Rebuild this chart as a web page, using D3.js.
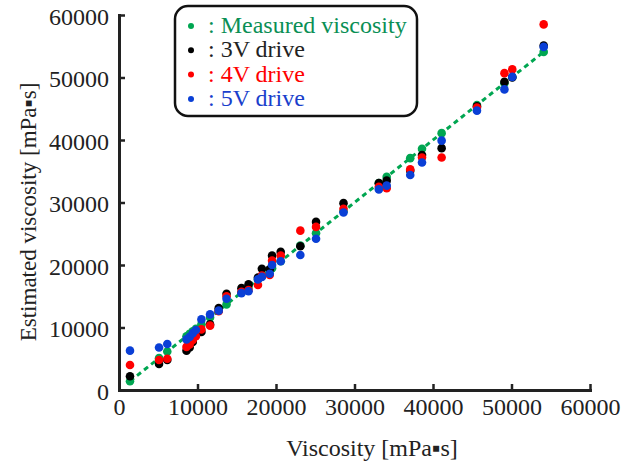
<!DOCTYPE html>
<html>
<head>
<meta charset="utf-8">
<script src="https://cdn.jsdelivr.net/npm/d3@7"></script>
<style>
  body { margin: 0; background: #fff; }
  svg text { font-family: "Liberation Serif", "Times New Roman", Times, "DejaVu Serif", serif; }
</style>
</head>
<body>
<svg id="chart" width="636" height="466"></svg>
<script>
// measured viscosity (x) and estimates for each drive voltage
const measured = [1400, 5100, 6150, 8600, 9000, 9400, 9800, 10500, 11600, 12700, 13700,
  15600, 16500, 17700, 18200, 19200, 19500, 20600, 23100, 25100, 28600, 33100, 34100,
  37100, 38600, 41100, 45600, 49100, 50100, 54100]
const drive3V = [2200, 4150, 4800, 6300, 6800, 7700, 8800, 9300, 10500, 13100, 15400,
  16300, 16900, 18000, 19400, 19300, 21500, 22100, 23000, 26900, 29900, 33100, 33500,
  35100, 37600, 38700, 45400, 49300, 50000, 55100]
const drive4V = [4000, 4800, 5000, 6900, 7300, 8000, 8600, 9700, 10300, 12600, 15000,
  15700, 16000, 16800, 18300, 18400, 20700, 21500, 25500, 26100, 29000, 32500, 32300,
  35300, 37200, 37200, 45200, 50700, 51300, 58500]
const drive5V = [6300, 6800, 7350, 8100, 8500, 9100, 9600, 11300, 12100, 12700, 14600,
  15500, 15800, 17700, 18100, 18600, 20000, 20600, 21600, 24200, 28400, 32100, 32700,
  34400, 36400, 39900, 44700, 48100, 50100, 54900]
const axisTicks = [0, 10000, 20000, 30000, 40000, 50000, 60000]
const legendLabels = [': Measured viscosity', ': 3V drive', ': 4V drive', ': 5V drive']

const svg = d3.select('#chart')
const serif = '"Liberation Serif", "Times New Roman", Times, "DejaVu Serif", serif'
const green = '#00a651'
const colors = [green, '#000000', '#ff0000', '#0a3fd6']
const textColors = ['#0a8f55', '#222222', '#ff0000', '#1a3fcc']

const x = d3.scaleLinear().domain([0, 60000]).range([119, 590])
const y = d3.scaleLinear().domain([0, 60000]).range([390, 15])

// axes with ticks pointing inward
const xAxis = svg.append('g')
  .attr('transform', `translate(0, ${y(0)})`)
  .call(d3.axisBottom(x).tickValues(axisTicks).tickSizeInner(-6).tickSizeOuter(0).tickPadding(14).tickFormat(d3.format('d')))
const yAxis = svg.append('g')
  .attr('transform', `translate(${x(0)}, 0)`)
  .call(d3.axisLeft(y).tickValues(axisTicks).tickSizeInner(-6).tickSizeOuter(0).tickPadding(10).tickFormat(d3.format('d')))

svg.selectAll('g').attr('font-family', serif)
svg.selectAll('.domain').style('stroke', '#222').style('stroke-width', 3).style('stroke-linecap', 'square')
svg.selectAll('.tick line').style('stroke', '#222').style('stroke-width', 2.5)
svg.selectAll('.tick text')
  .style('font-family', serif)
  .style('font-size', '24px')
  .style('fill', '#222')
xAxis.selectAll('.tick text').attr('dy', '0.45em')
yAxis.selectAll('.tick text').attr('dy', '0.38em')

// axis titles
svg.append('text')
  .attr('x', 372).attr('y', 456)
  .attr('text-anchor', 'middle')
  .style('font-family', serif)
  .style('font-size', '24px').style('fill', '#222')
  .text('Viscosity [mPa\u25AAs]')
svg.append('text')
  .attr('transform', 'rotate(-90)')
  .attr('x', -212).attr('y', 36)
  .attr('text-anchor', 'middle')
  .style('font-family', serif)
  .style('font-size', '23px').style('fill', '#222')
  .text('Estimated viscosity  [mPa\u25AAs]')

// dashed line through the measured values
svg.append('path')
  .datum([measured[0], measured[measured.length - 1]])
  .attr('d', d3.line().x(d => x(d)).y(d => y(d)))
  .style('fill', 'none')
  .style('stroke', green)
  .style('stroke-width', 3)
  .style('stroke-dasharray', '5,4')

// points: green first, then 3V, 4V, 5V on top
const series = [measured, drive3V, drive4V, drive5V]
series.forEach((vals, i) => {
  svg.append('g')
    .selectAll('circle')
    .data(vals)
    .enter()
    .append('circle')
    .attr('cx', (d, j) => x(measured[j]))
    .attr('cy', d => y(d))
    .attr('r', 4.3)
    .style('fill', colors[i])
})

// legend
svg.append('rect')
  .attr('x', 175).attr('y', 6)
  .attr('width', 242).attr('height', 110)
  .attr('rx', 13)
  .style('fill', '#fff')
  .style('stroke', '#111')
  .style('stroke-width', 2.5)

legendLabels.forEach((t, i) => {
  const by = 33 + i * 24.3
  svg.append('circle').attr('cx', 191).attr('cy', by - 7).attr('r', 3).style('fill', colors[i])
  svg.append('text')
    .attr('x', 208).attr('y', by)
    .style('font-family', serif)
    .style('font-size', '24px')
    .style('fill', textColors[i])
    .text(t)
})
</script>
</body>
</html>
